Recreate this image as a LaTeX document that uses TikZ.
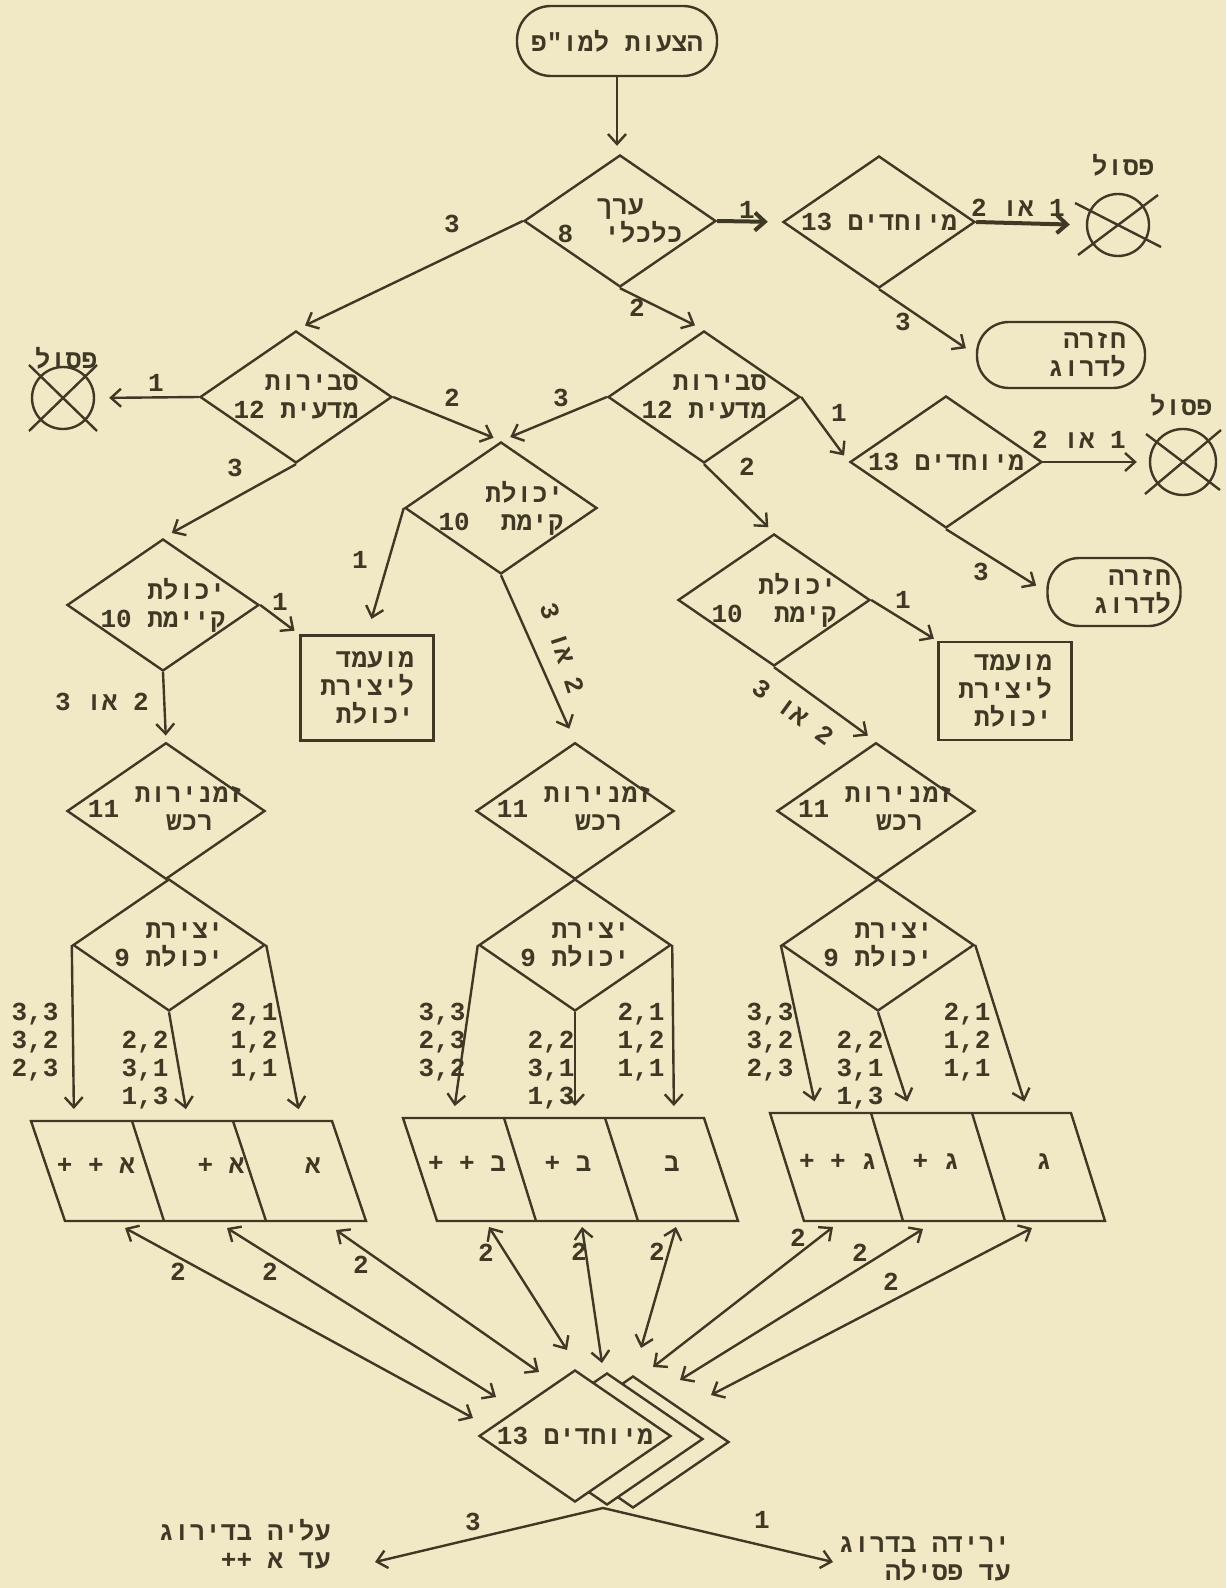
\documentclass[tikz,border=0pt]{standalone}
\usepackage{fontspec}
\usepackage{tikz}
\usetikzlibrary{shapes,arrows.meta}
\TeXXeTstate=1
\newfontfamily\hebfont[Script=Hebrew]{Liberation Mono}
\newcommand{\hb}[1]{\beginR #1\endR}
\definecolor{paper}{RGB}{241,233,198}
\definecolor{ink}{RGB}{62,56,36}

\begin{document}
\begin{tikzpicture}[x=0.5pt,y=-0.5pt,line width=1.2pt,color=ink,>={Straight Barb[length=5pt,width=9pt]},
every node/.style={font=\hebfont\bfseries\fontsize{13}{14}\selectfont},
dia/.style={draw,shape=diamond,shape aspect=1.45,minimum width=96pt,minimum height=66pt,inner sep=-4pt},
term/.style={draw,rounded corners=16pt,inner sep=0pt},
boxed/.style={draw,inner sep=0pt,minimum width=66.5pt},
xc/.style={draw,circle,inner sep=0pt}]
\fill[paper] (0,0) rectangle (1226,1588);
\useasboundingbox (0,0) rectangle (1226,1588);
\node[term,minimum width=100pt,minimum height=35pt,rounded corners=17pt](start) at (617,41) {\hb{הצעות למו"פ}};
\node[dia,align=center](d1) at (620,221) {\hb{ערך}\\\hb{כלכלי\ \ 8}};
\node[dia](d4) at (879,222) {\hb{מיוחדים 13}};
\node[xc,minimum size=31pt](x1) at (1118,225) {};
\node(p1) at (1123,165) {\hb{פסול}};
\node[term,minimum width=84pt,minimum height=33pt,text width=65pt,align=right](r1) at (1061,355) {\hb{חזרה}\\\hb{לדרוג}};
\node[dia,align=right](d2) at (296,397) {\hb{סבירות}\\\hb{מדעית\ 12}};
\node[xc,minimum size=31pt](x2) at (63,398) {};
\node(p2) at (66,358) {\hb{פסול}};
\node[dia,align=right](d3) at (704,397) {\hb{סבירות}\\\hb{מדעית\ 12}};
\node[dia](d7) at (946,462) {\hb{מיוחדים 13}};
\node[xc,minimum size=33pt](x3) at (1183,462) {};
\node(p3) at (1181,405) {\hb{פסול}};
\node[term,minimum width=66.5pt,minimum height=34pt,text width=57pt,align=right](r2) at (1114,592) {\hb{חזרה}\\\hb{לדרוג}};
\node[dia,align=right](d5) at (501,508) {\hb{יכולת}\\\hb{קימת\ \ 10}};
\node[dia,align=right](d6) at (163,605) {\hb{יכולת}\\\hb{קיימת\ 10}};
\node[dia,align=right](d8) at (774,600) {\hb{יכולת}\\\hb{קימת\ \ 10}};
\node[boxed,minimum height=52.5pt,text width=47pt,align=right](m1) at (367,688) {\hb{מועמד}\\\hb{ליצירת}\\\hb{יכולת}};
\node[boxed,minimum height=49pt,text width=47pt,align=right](m2) at (1005,691) {\hb{מועמד}\\\hb{ליצירת}\\\hb{יכולת}};
\node[dia](d9) at (166,811) {11\ \begin{tabular}{@{}c@{}}\hb{זמנירות}\\\hb{רכש}\end{tabular}};
\node[dia](d10) at (575,811) {11\ \begin{tabular}{@{}c@{}}\hb{זמנירות}\\\hb{רכש}\end{tabular}};
\node[dia](d11) at (876,811) {11\ \begin{tabular}{@{}c@{}}\hb{זמנירות}\\\hb{רכש}\end{tabular}};
\node[dia,align=right](d12) at (169,945) {\hb{יצירת}\\\hb{יכולת\ 9}};
\node[dia,align=right](d13) at (575,945) {\hb{יצירת}\\\hb{יכולת\ 9}};
\node[dia,align=right](d14) at (878,945) {\hb{יצירת}\\\hb{יכולת\ 9}};
\node[dia,fill=paper](s2) at (633,1442) {};
\node[dia,fill=paper](s1) at (607,1439) {};
\node[dia,fill=paper](d15) at (575,1436) {\hb{מיוחדים 13}};
\foreach \bx/\by in {31/1121,403/1118,770/1113} {
  \draw (\bx,\by) -- (\bx+301,\by) -- (\bx+335,1221) -- (\bx+34,1221) -- cycle;
  \draw (\bx+101,\by) -- (\bx+133,1221); \draw (\bx+202,\by) -- (\bx+235,1221);
}
\node(ca1) at (96,1166) {\hb{א + +}}; \node(ca2) at (221,1166) {\hb{א +}}; \node(ca3) at (313,1166) {\hb{א}};
\node(cb1) at (467,1164) {\hb{ב + +}}; \node(cb2) at (568,1164) {\hb{ב +}}; \node(cb3) at (672,1164) {\hb{ב}};
\node(cc1) at (838,1162) {\hb{ג + +}}; \node(cc2) at (936,1162) {\hb{ג +}}; \node(cc3) at (1044,1162) {\hb{ג}};
\foreach \n/\x/\y in {ta1/74/1121,ta2/188/1121,ta3/301/1121,tb1/453/1118,tb2/575/1118,tb3/674/1118,tc1/817/1113,tc2/911/1113,tc3/1028/1113,
  ba1/125/1228,ba2/227/1228,ba3/336/1230,bb1/489/1227,bb2/582/1227,bb3/676/1227,bc1/833/1227,bc2/923/1229,bc3/1032/1228,
  ea1/473/1418,ea2/496/1397,ea3/539/1372,eb1/567/1350,eb2/602/1363,eb3/641/1348,ec1/653/1367,ec2/680/1380,ec3/711/1395,
  o/603/1508,oa/375/1562,ob/833/1562} \coordinate (\n) at (\x,\y);
\foreach \n/\ax/\ay/\bx/\by in {x1/43/22/40/30,x2/34/33/34/33,x3/37/28/38/32} {
  \draw (\n.center) ++(-\ax,-\ay) -- ++(2*\ax,2*\ay); \draw (\n.center) ++(-\bx,\by) -- ++(2*\bx,-2*\by);
}
\draw[->,shorten >=4pt](start.south)--(start.south |- d1.north);
\draw[->,line width=2pt,shorten >=7pt](d1.east)--(d4.west); \draw[->,line width=2pt,shorten >=8pt](d4.east)--(x1.west);
\draw[->,shorten >=5pt](d1.west)--(d2.north); \draw[->,shorten >=5pt](d1.south)--(d3.north);
\draw[->,shorten >=6pt](d4.south)--(r1.west); \draw[->,shorten >=7pt](d2.west)--(x2.east);
\draw[->,shorten >=4pt](d2.east)--(d5.north); \draw[->,shorten >=5pt](d2.south)--(d6.north);
\draw[->,shorten >=5pt](d3.west)--(d5.north); \draw[->,shorten >=4pt](d3.east)--(d7.west);
\draw[->,shorten >=4pt](d3.south)--(d8.north); \draw[->,shorten >=6pt](d7.east)--(x3.west);
\draw[->,shorten >=6pt](d7.south)--(r2.west); \draw[->,shorten >=8pt](d5.west)--(m1.north);
\draw[->,shorten >=7pt](d5.south)--(d10.north); \draw[->,shorten >=3pt](d6.east)--(m1.north west);
\draw[->,shorten >=3pt](d6.south)--(d9.north); \draw[->,shorten >=2pt](d8.east)--(m2.north west);
\draw[->,shorten >=5pt](d8.south)--(d11.north);
\foreach \d/\b in {d12/a,d13/b,d14/c} {
  \draw[->,shorten >=6pt](\d.west)--(t\b1); \draw[->,shorten >=6pt](\d.south)--(t\b2); \draw[->,shorten >=6pt](\d.east)--(t\b3);
  \foreach \i in {1,2,3} \draw[<->](b\b\i)--(e\b\i);
}
\draw[->](o)--(oa); \draw[->](o)--(ob);
\node(l1) at (747,210) {1}; \node(l2) at (1018,208) {\hb{1 או 2}}; \node(l3) at (452,224) {3}; \node(l4) at (637,308) {2};
\node(l5) at (903,322) {3}; \node(l6) at (156,383) {1}; \node(l7) at (452,398) {2}; \node(l8) at (235,468) {3};
\node(l9) at (561,398) {3}; \node(l10) at (839,413) {1}; \node(l11) at (747,467) {2}; \node(l12) at (1079,440) {\hb{1 או 2}};
\node(l13) at (981,572) {3}; \node(l14) at (360,560) {1}; \node[rotate=-72](l15) at (562,648) {\hb{2 או 3}};
\node(l16) at (280,602) {1}; \node(l17) at (102,702) {\hb{2 או 3}}; \node(l18) at (903,600) {1};
\node[rotate=-36](l19) at (793,712) {\hb{2 או 3}};
\node[align=center](ka1) at (35,1042) {3,3\\3,2\\2,3}; \node[align=center](ka2) at (145,1070) {2,2\\3,1\\1,3}; \node[align=center](ka3) at (254,1042) {2,1\\1,2\\1,1};
\node[align=center](kb1) at (442,1042) {3,3\\2,3\\3,2}; \node[align=center](kb2) at (551,1070) {2,2\\3,1\\1,3}; \node[align=center](kb3) at (641,1042) {2,1\\1,2\\1,1};
\node[align=center](kc1) at (770,1042) {3,3\\3,2\\2,3}; \node[align=center](kc2) at (860,1070) {2,2\\3,1\\1,3}; \node[align=center](kc3) at (967,1042) {2,1\\1,2\\1,1};
\foreach \n/\x/\y in {ja1/178/1272,ja2/270/1272,ja3/361/1265,jb1/486/1253,jb2/579/1252,jb3/657/1252,jc1/798/1238,jc2/860/1253,jc3/891/1282}
  \node(\n) at (\x,\y) {2};
\node(l20) at (473,1522) {3}; \node(l21) at (762,1520) {1};
\node[anchor=east,align=right](up) at (338,1544) {\hb{עליה בדירוג}\\\hb{עד א ++}};
\node[anchor=east,align=right](down) at (1018,1559) {\hb{ירידה בדרוג}\\\hb{עד פסילה}};
\end{tikzpicture}
\end{document}
